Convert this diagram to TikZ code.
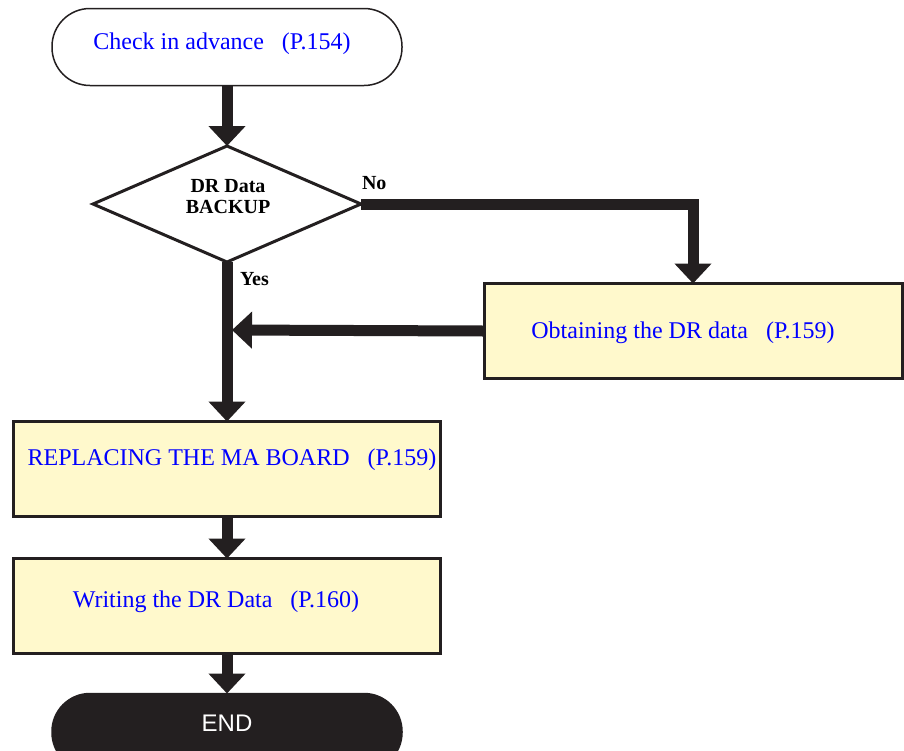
\documentclass[tikz,border=0pt]{standalone}
\usepackage{fontspec}
\setmainfont{Liberation Serif}
\newfontfamily\endfont{Liberation Sans}
\usetikzlibrary{positioning,arrows.meta,shapes.geometric}

\definecolor{boxfill}{HTML}{FFF9CC}
\definecolor{linedark}{HTML}{231F20}
\definecolor{linkblue}{HTML}{0000FF}

\begin{document}
\begin{tikzpicture}[
    x=1pt, y=-1pt,
    every node/.style={inner sep=0pt, outer sep=0pt},
    terminal/.style={
        draw=linedark,
        line width=1.5pt,
        rounded corners=38pt,
        minimum width=350pt,
        minimum height=77pt
    },
    stepbox/.style={
        draw=linedark,
        line width=3pt,
        fill=boxfill,
        minimum width=427pt,
        minimum height=95pt
    },
    decision/.style={
        draw=linedark,
        line width=3pt,
        diamond,
        aspect=2.3,
        minimum width=268pt,
        minimum height=116pt
    },
    steptext/.style={anchor=base, text=linkblue, font=\fontsize{24}{28}\selectfont},
    answer/.style={anchor=base west, font=\fontsize{20}{22}\selectfont\bfseries},
    arrow/.style={-{Triangle[length=20pt,width=36pt]}, line width=11pt, draw=linedark}
]
\useasboundingbox (0,0) rectangle (904,750);
\clip (0,0) rectangle (904,750);

\node (start) [terminal] at (227,47) {};
\node (dec) [decision] at (227,204) {};
\node (obt) [stepbox, minimum width=418pt] at (693,331) {};
\node (rep) [stepbox] at (227,469) {};
\node (wri) [stepbox] at (227,606) {};
\node (endn) [terminal, fill=linedark] at (227,732) {};

% texts
\node (starttext) [steptext] at (222,49) {Check in advance\hspace{18pt}(P.154)};
\node (dectext) [anchor=base, align=center, font=\fontsize{20}{21}\selectfont\bfseries] at (228,213) {DR Data\\BACKUP};
\node (obttext) [steptext] at (683,338) {Obtaining the DR data\hspace{18pt}(P.159)};
\node (reptext) [steptext] at (232,465) {REPLACING THE MA BOARD\hspace{18pt}(P.159)};
\node (writext) [steptext] at (216,607) {Writing the DR Data\hspace{18pt}(P.160)};
\node (endtext) [anchor=base, text=white, font=\endfont\fontsize{24}{28}\selectfont] at (227,731) {END};
\node (no) [answer] at (362,189) {No};
\node (yes) [answer] at (240,285) {Yes};

\coordinate (merge) at (227,330);

\draw[arrow] (start) -- (dec);
\draw[arrow] (dec.east) -| (obt.north);
\draw[arrow] (dec.south) -- (rep.north);
\draw[arrow, shorten >=5pt] (obt.west) -- (merge);
\draw[arrow] (rep) -- (wri);
\draw[arrow] (wri) -- (endn);

\end{tikzpicture}
\end{document}
